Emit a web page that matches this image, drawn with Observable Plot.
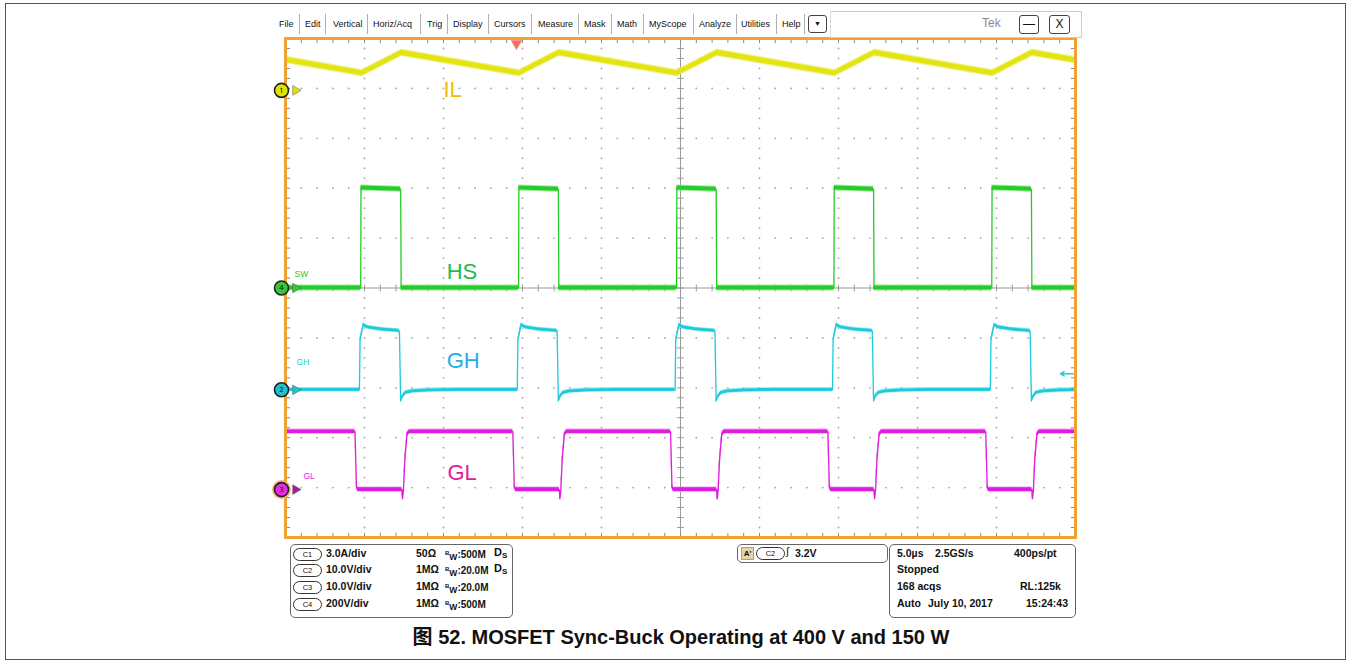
<!DOCTYPE html>
<html><head><meta charset="utf-8">
<script src="https://cdn.jsdelivr.net/npm/d3@7"></script>
<script src="https://cdn.jsdelivr.net/npm/@observablehq/plot@0.6"></script>
<style>
body{margin:0;background:#fff;font-family:"Liberation Sans",Arial,"Noto Sans CJK SC",sans-serif;}
#page{position:relative;width:1350px;height:664px;overflow:hidden;background:#fff;}
#outer{position:absolute;left:5px;top:3px;width:1339px;height:655px;border:1px solid #555;}
#chart{position:absolute;left:0;top:0;}
.menu{position:absolute;top:19px;font-size:9px;line-height:10px;color:#111;white-space:nowrap;}
.sep{position:absolute;top:14px;width:1px;height:20px;background:#b0b0b0;}
.btn{position:absolute;border:1.5px solid #444;border-radius:3px;background:#fff;text-align:center;font-size:11px;color:#111;}
.panel{position:absolute;border:1px solid #666;border-radius:5px;background:#fff;}
.pt{position:absolute;font-size:10.5px;line-height:11px;font-weight:bold;color:#111;white-space:nowrap;}
.oval{position:absolute;width:27px;height:11px;border:1px solid #333;border-radius:7px;font-size:7.5px;line-height:11px;text-align:center;color:#111;background:#fff;}
#caption{position:absolute;left:0;width:1362px;top:626px;text-align:center;font-size:20px;line-height:22px;font-weight:bold;color:#111;}
</style></head>
<body><div id="page">
<div id="outer"></div>
<div id="chart"></div>
<div id="ui"></div>
<div id="caption">图 52. MOSFET Sync-Buck Operating at 400 V and 150 W</div>
</div>
<script>
// ---------------- data read from the screen ----------------
// time axis: microseconds from the left edge of the screen (5.0 µs/div, 10 div)
const screenTime = [0, 50];
const screenDivs = [-5, 5];

// Channel settings (units per division, ground-marker position in divisions)
const chNames   = ["IL", "HS", "GH", "GL"];
const chNumbers = ["1", "4", "2", "3"];
const chPerDiv  = [3.0, 200, 10.0, 10.0];
const chOffset  = [3.96, 0.0, -2.04, -4.04];

// IL (C1, A): valleys at HS turn-on, peaks at HS turn-off
const ilTimes = [0, 4.85, 7.35, 14.80, 17.32, 24.79, 27.32, 34.76, 37.28, 44.75, 47.27, 50];
const ilAmps  = [1.84, 1.03, 2.26, 1.03, 2.26, 1.03, 2.26, 1.03, 2.26, 1.03, 2.26, 1.81];

// HS switch node (C4, V)
const hsRise = [4.76, 14.75, 24.75, 34.71, 44.70];
const hsFall = [7.29, 17.27, 27.26, 37.22, 47.21];
const hsLow = 0, hsHighStart = 401, hsHighEnd = 396;

// GH high-side gate (C2, V): edge times and shape around each edge
const ghRise = [4.70, 14.69, 24.68, 34.64, 44.63];
const ghFall = [7.23, 17.21, 27.20, 37.16, 47.15];
const ghRiseDt = [-0.02, 0.02, 0.22, 0.52, 1.32];
const ghRiseV  = [0, 10.0, 13.0, 12.5, 12.1];
const ghFallDt = [-0.02, 0.06, 0.16, 0.36, 0.76, 1.76, 3.76];
const ghFallV  = [11.8, -2.2, -1.4, -0.6, -0.3, -0.1, 0];

// GL low-side gate (C3, V)
const glFall = [4.43, 14.42, 24.40, 34.36, 44.35];
const glRise = [7.49, 17.45, 27.41, 37.37, 47.36];
const glHigh = 11.6;
const glFallDt = [-0.03, 0.06, 0.16];
const glFallV  = [11.6, 0.6, 0];
const glRiseDt = [-0.12, -0.08, -0.02, 0.06, 0.2, 0.35];
const glRiseV  = [0, -1.8, 0, 5.8, 11.0, 11.6];

// trigger: C2 rising, 3.2 V, trigger position on screen
const trigTime = 14.62, trigLevel = 3.2;

// annotation labels (text, time µs, channel value)
const bigLabels   = ["IL", "HS", "GH", "GL"];
const bigLabelT   = [10.0, 10.2, 10.2, 10.25];
const bigLabelV   = [0.0, 66, 5.7, 3.4];
const smallLabels = ["SW", "GH", "GL"];
const smallLabelCh= [1, 2, 3];
const smallLabelT = [0.57, 0.70, 1.14];
const smallLabelV = [56, 5.6, 2.7];

// ---------------- build tables ----------------
function clipTo(pts, t0, t1){
  const out=[];
  for(let i=0;i<pts.length;i++){
    const [t,v]=pts[i];
    if(t>=t0 && t<=t1) out.push([t,v]);
    if(i<pts.length-1){
      const [tn,vn]=pts[i+1];
      for(const b of [t0,t1]) if(t<b && tn>b) out.push([b, v+(vn-v)*(b-t)/(tn-t)]);
    }
  }
  return out;
}
const il = ilTimes.map((t,i)=>[t, ilAmps[i]]);
const hs = [[0,hsLow]];
hsRise.forEach((r,i)=>{ hs.push([r,hsLow],[r+0.02,hsHighStart],[hsFall[i],hsHighEnd],[hsFall[i]+0.03,hsLow]); });
hs.push([50,hsLow]);
const gh = [[0,0]];
ghRise.forEach((r,i)=>{
  ghRiseDt.forEach((d,j)=>gh.push([r+d, ghRiseV[j]]));
  ghFallDt.forEach((d,j)=>gh.push([ghFall[i]+d, ghFallV[j]]));
});
const gl = [[0,glHigh]];
glFall.forEach((f,i)=>{
  glFallDt.forEach((d,j)=>gl.push([f+d, glFallV[j]]));
  glRiseDt.forEach((d,j)=>gl.push([glRise[i]+d, glRiseV[j]]));
});
gl.push([50,glHigh]);
const raw = [il, hs, gh, gl];
const traces = raw.map((pts,c)=>clipTo(pts,0,50).map(([t,v])=>({ch:chNames[c], t, y: chOffset[c] + v/chPerDiv[c]})));

// ---------------- styles ----------------
const pxPerDivY = 49.9;
const traceColor = ["#e4e414", "#26cc26", "#1ccbdc", "#de1ede"];
const fringeColor = ["#eeee70", "#86e486", "#86e2ec", "#ec8aec"];
const bandCore = [2.6, 2.0, 1.4, 1.8];
const bandFringe = [3.8, 3.0, 2.2, 2.6];
const markerFill = ["#e2e200", "#36c836", "#22bfcf", "#e030e0"];
const bigLabelColor = ["#f5b80a", "#1cbb4a", "#1eaee8", "#e0209a"];
const grey = "#a4a4a4";

// graticule helpers
const majorX = d3.range(5, 50, 5).filter(x=>x!==25);
const majorY = d3.range(-4, 5, 1).filter(y=>y!==0);
const gridDots = [];
majorX.forEach(x=>d3.range(-4.8,4.81,0.2).forEach(y=>gridDots.push({x,y})));
majorY.forEach(y=>d3.range(1,50,1).forEach(x=>{ if(x%5) gridDots.push({x,y}); }));
const tickX = d3.range(1,50,1);
const tickY = d3.range(-4.8,4.81,0.2).map(v=>Math.round(v*10)/10);
const tx = 4.6/15.8, ty = 4.6/pxPerDivY;

const marks = [];
marks.push(Plot.dot(gridDots,{x:"x",y:"y",r:0.9,fill:grey}));
marks.push(Plot.ruleX([25],{stroke:"#9a9a9a",strokeWidth:1}));
marks.push(Plot.ruleY([0],{stroke:"#9a9a9a",strokeWidth:1}));
marks.push(Plot.link(tickY,{x1:25-3.4/15.8,x2:25+3.4/15.8,y1:d=>d,y2:d=>d,stroke:"#9a9a9a"}));
marks.push(Plot.link(tickX,{x1:d=>d,x2:d=>d,y1:-3.4/pxPerDivY,y2:3.4/pxPerDivY,stroke:"#9a9a9a"}));
marks.push(Plot.link(tickX,{x1:d=>d,x2:d=>d,y1:5,y2:5-ty,stroke:"#8a8a8a"}));
marks.push(Plot.link(tickX,{x1:d=>d,x2:d=>d,y1:-5,y2:-5+ty,stroke:"#8a8a8a"}));
marks.push(Plot.link(tickY,{x1:0,x2:tx,y1:d=>d,y2:d=>d,stroke:"#8a8a8a"}));
marks.push(Plot.link(tickY,{x1:50,x2:50-tx,y1:d=>d,y2:d=>d,stroke:"#8a8a8a"}));

traces.forEach((rows,c)=>{
  const f = bandFringe[c]/pxPerDivY, k = bandCore[c]/pxPerDivY;
  marks.push(Plot.areaY(rows,{x:"t",y1:d=>d.y-f,y2:d=>d.y+f,fill:fringeColor[c],fillOpacity:0.8}));
  marks.push(Plot.areaY(rows,{x:"t",y1:d=>d.y-k,y2:d=>d.y+k,fill:traceColor[c]}));
  marks.push(Plot.line(rows,{x:"t",y:"y",stroke:traceColor[c],strokeWidth:1.3}));
});

// labels
const bigRows = bigLabels.map((s,i)=>({s, t:bigLabelT[i], y: chOffset[i] + bigLabelV[i]/chPerDiv[i], c:bigLabelColor[i]}));
marks.push(Plot.text(bigRows,{x:"t",y:"y",text:"s",fill:"c",fontSize:22,textAnchor:"start",fontFamily:"Liberation Sans, Arial"}));
const smallRows = smallLabels.map((s,i)=>{const c=smallLabelCh[i]; return {s,t:smallLabelT[i],y:chOffset[c]+smallLabelV[i]/chPerDiv[c],c:traceColor[c]};});
marks.push(Plot.text(smallRows,{x:"t",y:"y",text:"s",fill:"c",fontSize:8.5,textAnchor:"start",fontFamily:"Liberation Sans, Arial"}));

// trigger markers
marks.push(Plot.dot([trigTime],{x:d=>d,y:5,symbol:"triangle",rotate:180,r:4.2,fill:"#f2735e",dy:5}));
const trigY = chOffset[2] + trigLevel/chPerDiv[2];
marks.push(Plot.arrow([trigY],{x1:49.85,x2:49.05,y1:d=>d,y2:d=>d,stroke:traceColor[2],strokeWidth:1.5,headLength:6}));

// frame
marks.push(Plot.frame({stroke:"#f0a232",strokeWidth:3}));

// channel ground markers
const markerRows = chNames.map((n,i)=>({n:chNumbers[i], y:chOffset[i], f:markerFill[i], i}));
marks.push(Plot.dot(markerRows.filter(d=>d.i===3),{x:0,y:"y",r:9.5,fill:"#f7b27a",dx:-4}));
marks.push(Plot.dot(markerRows,{x:0,y:"y",symbol:"triangle",rotate:90,r:3.6,fill:d=>d.i===3?"#a020a0":d.f,stroke:"#555",strokeWidth:0.5,dx:10}));
marks.push(Plot.dot(markerRows,{x:0,y:"y",r:7,fill:"f",stroke:"#222",strokeWidth:1.6,dx:-4}));
marks.push(Plot.text(markerRows,{x:0,y:"y",text:"n",fontSize:7.5,fill:"#111",dx:-4}));

const svg = Plot.plot({
  width:1350, height:560,
  marginLeft:285, marginRight:275, marginTop:38, marginBottom:23,
  x:{domain:screenTime, axis:null}, y:{domain:screenDivs, axis:null},
  style:{background:"transparent", overflow:"visible"},
  marks
});
document.getElementById("chart").appendChild(svg);

// ---------------- scope UI chrome ----------------
const menuItems = ["File","Edit","Vertical","Horiz/Acq","Trig","Display","Cursors","Measure","Mask","Math","MyScope","Analyze","Utilities","Help"];
const menuX = [279,305,333,373,427,453,494,538,584,617,649,699,741,782];
const sepX = [299,325,367,420,447,488,531,578,611,643,693,736,776,804];
let h = "";
menuItems.forEach((m,i)=>{ h += `<div class="menu" style="left:${menuX[i]}px">${m}</div>`; });
sepX.forEach(x=>{ h += `<div class="sep" style="left:${x}px"></div>`; });
h += `<div class="btn" style="left:808px;top:15px;width:17px;height:16px;font-size:7px;line-height:16px">&#9660;</div>`;
h += `<div style="position:absolute;left:830px;top:11px;width:250px;height:25px;border:1px solid #ccc;border-left:1px solid #ddd;background:#fff"></div>`;
h += `<div style="position:absolute;left:982px;top:16px;font-size:12px;color:#8a8a8a">Tek</div>`;
h += `<div class="btn" style="left:1019px;top:15px;width:18px;height:17px;line-height:17px;font-size:12px">&#8212;</div>`;
h += `<div class="btn" style="left:1049px;top:15px;width:19px;height:17px;line-height:17px;font-size:12px">X</div>`;

// left channel panel
const chLabels = ["C1","C2","C3","C4"];
const chScale = ["3.0A/div","10.0V/div","10.0V/div","200V/div"];
const chImp = ["50Ω","1MΩ","1MΩ","1MΩ"];
const chBw = ["500M","20.0M","20.0M","500M"];
const chDs = [true,true,false,false];
const rowY = [547.5, 564, 580.5, 597.5];
h += `<div class="panel" style="left:290px;top:544px;width:221px;height:72px"></div>`;
chLabels.forEach((c,i)=>{
  h += `<div class="oval" style="left:293px;top:${rowY[i]}px">${c}</div>`;
  h += `<div class="pt" style="left:326px;top:${rowY[i]}px">${chScale[i]}</div>`;
  h += `<div class="pt" style="left:416px;top:${rowY[i]}px">${chImp[i]}</div>`;
  h += `<div class="pt" style="left:445px;top:${rowY[i]}px;font-size:10px"><span style="font-size:6px;vertical-align:3px">B</span><span style="font-size:8.5px;vertical-align:-2px">W</span>:${chBw[i]}</div>`;
  if(chDs[i]) h += `<div class="pt" style="left:494px;top:${rowY[i]-1}px;font-size:11px">D<span style="font-size:8px;vertical-align:-2px">S</span></div>`;
});
// trigger panel
h += `<div class="panel" style="left:737px;top:544px;width:149px;height:17px"></div>`;
h += `<div class="pt" style="left:741px;top:547px;width:11px;height:11px;background:#e8d3a6;border:1px solid #b8a070;font-size:8px;line-height:11px;text-align:center">A'</div>`;
h += `<div class="oval" style="left:756px;top:547px">C2</div>`;
h += `<div class="pt" style="left:786px;top:546px;font-size:11px;font-weight:normal">&#8747;</div>`;
h += `<div class="pt" style="left:795px;top:547.5px">${trigLevel.toFixed(1)}V</div>`;
// acquisition panel
h += `<div class="panel" style="left:889px;top:544px;width:185px;height:72px"></div>`;
const acq = [["5.0µs",897],["2.5GS/s",935],["400ps/pt",1014],["Stopped",897],["168 acqs",897],["RL:125k",1020],["Auto",897],["July 10, 2017",928],["15:24:43",1026]];
const acqRow = [0,0,0,1,2,2,3,3,3];
acq.forEach(([s,x],i)=>{ h += `<div class="pt" style="left:${x}px;top:${547.5+acqRow[i]*16.7}px">${s}</div>`; });
document.getElementById("ui").innerHTML = h;
</script>
</body></html>
